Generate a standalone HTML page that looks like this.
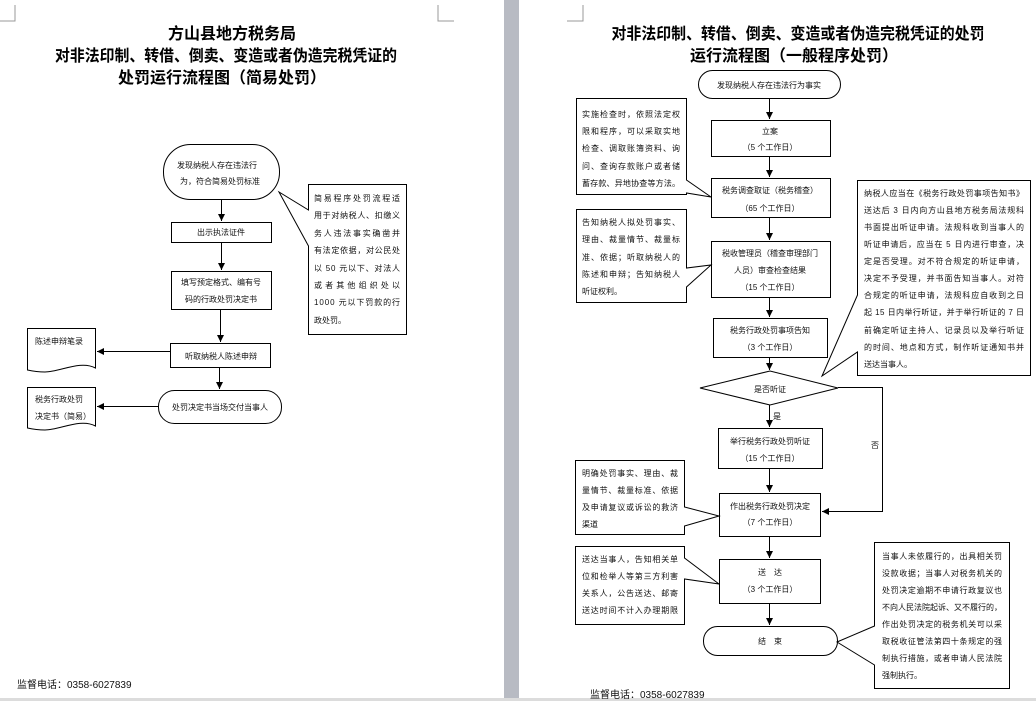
<!DOCTYPE html>
<html><head><meta charset="utf-8"><style>
html,body{margin:0;padding:0;width:1036px;height:701px;overflow:hidden;background:#fff}
svg{display:block}
text{font-family:"Liberation Sans","Noto Sans CJK SC",sans-serif;fill:#111}
.t{font-weight:bold;font-size:16px;fill:#000}
.s{font-size:8px}
.f{font-size:10px}
</style></head><body>
<svg width="1036" height="701" viewBox="0 0 1036 701" xmlns="http://www.w3.org/2000/svg">
<defs><marker id="a" markerWidth="8" markerHeight="8" refX="7" refY="4" orient="auto" markerUnits="userSpaceOnUse"><path d="M0,0.5 L7,4 L0,7.5z" fill="#000"/></marker></defs>
<rect x="504" y="0" width="15" height="701" fill="#b8bbc3"/>
<rect x="0" y="698" width="1036" height="3" fill="#dcdcdc"/>
<g stroke="#999" fill="none" stroke-width="1"><path d="M15,5 V21 H0"/><path d="M438,5 V21 H454"/><path d="M583,5 V21 H567"/></g>

<!-- LEFT PAGE -->
<text class="t" x="232" y="39" text-anchor="middle">方山县地方税务局</text>
<text class="t" x="226" y="61" text-anchor="middle" textLength="342" lengthAdjust="spacingAndGlyphs">对非法印制、转借、倒卖、变造或者伪造完税凭证的</text>
<text class="t" x="222" y="83" text-anchor="middle">处罚运行流程图（简易处罚）</text>

<g stroke="#000" stroke-width="1" fill="#fff">
<rect x="163.5" y="144.5" width="116" height="55" rx="27"/>
<rect x="171.5" y="222.5" width="100" height="20"/>
<rect x="171.5" y="271.5" width="100" height="38"/>
<rect x="170.5" y="343.5" width="100" height="24"/>
<rect x="158.5" y="390.5" width="123" height="33" rx="16"/>
<path d="M308.5,184.5 H406.5 V334.5 H308.5 V246 L279,192 L308.5,210 Z"/>
<path d="M27.5,328.5 H95.5 V368 C80,360 60,372 45,372 C38,372 32,371 27.5,370 Z"/>
<path d="M27.5,387.5 H95.5 V426 C80,418 60,430 45,430 C38,430 32,429 27.5,428 Z"/>
</g>
<g stroke="#000" fill="none" marker-end="url(#a)">
<line x1="221.5" y1="200" x2="221.5" y2="221"/>
<line x1="221.5" y1="243" x2="221.5" y2="270"/>
<line x1="220.5" y1="310" x2="220.5" y2="342"/>
<line x1="219.5" y1="368" x2="219.5" y2="389"/>
<line x1="170" y1="351.5" x2="97" y2="351.5"/>
<line x1="158" y1="406.5" x2="97" y2="406.5"/>
</g>
<text class="s" x="177" y="168">发现纳税人存在违法行</text>
<text class="s" x="180" y="184">为，符合简易处罚标准</text>
<text class="s" x="221" y="235" text-anchor="middle">出示执法证件</text>
<text class="s" x="221" y="285" text-anchor="middle">填写预定格式、编有号</text>
<text class="s" x="221" y="302" text-anchor="middle">码的行政处罚决定书</text>
<text class="s" x="221" y="359" text-anchor="middle">听取纳税人陈述申辩</text>
<text class="s" x="220" y="410" text-anchor="middle">处罚决定书当场交付当事人</text>
<text class="s" x="35" y="344">陈述申辩笔录</text>
<text class="s" x="35" y="402">税务行政处罚</text>
<text class="s" x="35" y="419">决定书（简易）</text>
<g class="s">
<text x="314" y="201" textLength="86">简易程序处罚流程适</text>
<text x="314" y="218" textLength="86">用于对纳税人、扣缴义</text>
<text x="314" y="236" textLength="86">务人违法事实确凿并</text>
<text x="314" y="253" textLength="86">有法定依据，对公民处</text>
<text x="314" y="271" textLength="86">以 50 元以下、对法人</text>
<text x="314" y="288" textLength="86">或者其他组织处以</text>
<text x="314" y="305" textLength="86">1000 元以下罚款的行</text>
<text x="314" y="323">政处罚。</text>
</g>
<text class="f" x="17" y="688">监督电话：0358-6027839</text>

<!-- RIGHT PAGE -->
<text class="t" x="798" y="39" text-anchor="middle" textLength="373" lengthAdjust="spacingAndGlyphs">对非法印制、转借、倒卖、变造或者伪造完税凭证的处罚</text>
<text class="t" x="794" y="61" text-anchor="middle">运行流程图（一般程序处罚）</text>

<g stroke="#000" stroke-width="1" fill="#fff">
<rect x="698.5" y="70.5" width="142" height="28" rx="14"/>
<rect x="711.5" y="120.5" width="119" height="36"/>
<rect x="711.5" y="178.5" width="119" height="39"/>
<rect x="711.5" y="241.5" width="119" height="56"/>
<rect x="713.5" y="318.5" width="114" height="39"/>
<path d="M700,388 L770,371 L838,388 L770,405 Z"/>
<rect x="718.5" y="428.5" width="104" height="40"/>
<rect x="719.5" y="493.5" width="101" height="43"/>
<rect x="719.5" y="559.5" width="101" height="44"/>
<rect x="703.5" y="626.5" width="134" height="29" rx="14"/>
<path d="M576.5,98.5 H686.5 V180 L711,197 L686.5,193 V194.5 H576.5 Z"/>
<path d="M576.5,209.5 H686.5 V268 L711,265 L686.5,287 V302.5 H576.5 Z"/>
<path d="M857.5,180.5 H1030.5 V375.5 H857.5 V352 L822,376 L857.5,295 Z"/>
<path d="M575.5,460.5 H684.5 V507 L719,516 L684.5,526 V534.5 H575.5 Z"/>
<path d="M575.5,546.5 H684.5 V558 L719,584 L684.5,579 V624.5 H575.5 Z"/>
<path d="M874.5,542.5 H1009.5 V688.5 H874.5 V665 L837,642 L874.5,626 Z"/>
</g>
<g stroke="#000" fill="none" marker-end="url(#a)">
<line x1="769.5" y1="99" x2="769.5" y2="119"/>
<line x1="769.5" y1="157" x2="769.5" y2="177"/>
<line x1="769.5" y1="218" x2="769.5" y2="240"/>
<line x1="769.5" y1="298" x2="769.5" y2="317"/>
<line x1="769.5" y1="358" x2="769.5" y2="370"/>
<line x1="769.5" y1="405" x2="769.5" y2="427"/>
<line x1="769.5" y1="469" x2="769.5" y2="492"/>
<line x1="769.5" y1="537" x2="769.5" y2="558"/>
<line x1="769.5" y1="604" x2="769.5" y2="625"/>
<polyline points="838,387.5 882.5,387.5 882.5,511.5 822,511.5"/>
</g>
<text class="s" x="769" y="88" text-anchor="middle">发现纳税人存在违法行为事实</text>
<text class="s" x="770" y="134" text-anchor="middle">立案</text>
<text class="s" x="770" y="150" text-anchor="middle">（5 个工作日）</text>
<text class="s" x="770" y="193" text-anchor="middle">税务调查取证（税务稽查）</text>
<text class="s" x="770" y="211" text-anchor="middle">（65 个工作日）</text>
<text class="s" x="770" y="256" text-anchor="middle">税收管理员（稽查审理部门</text>
<text class="s" x="770" y="273" text-anchor="middle">人员）审查检查结果</text>
<text class="s" x="770" y="290" text-anchor="middle">（15 个工作日）</text>
<text class="s" x="770" y="333" text-anchor="middle">税务行政处罚事项告知</text>
<text class="s" x="770" y="350" text-anchor="middle">（3 个工作日）</text>
<text class="s" x="770" y="392" text-anchor="middle">是否听证</text>
<text class="s" x="773" y="419">是</text>
<text class="s" x="871" y="448">否</text>
<text class="s" x="770" y="444" text-anchor="middle">举行税务行政处罚听证</text>
<text class="s" x="770" y="461" text-anchor="middle">（15 个工作日）</text>
<text class="s" x="770" y="509" text-anchor="middle">作出税务行政处罚决定</text>
<text class="s" x="770" y="525" text-anchor="middle">（7 个工作日）</text>
<text class="s" x="770" y="575" text-anchor="middle">送　达</text>
<text class="s" x="770" y="592" text-anchor="middle">（3 个工作日）</text>
<text class="s" x="770" y="644" text-anchor="middle">结　束</text>
<g class="s">
<text x="582" y="117" textLength="98">实施检查时，依照法定权</text>
<text x="582" y="134" textLength="98">限和程序，可以采取实地</text>
<text x="582" y="151" textLength="98">检查、调取账簿资料、询</text>
<text x="582" y="169" textLength="98">问、查询存款账户或者储</text>
<text x="582" y="186" textLength="98">蓄存款、异地协查等方法。</text>
<text x="582" y="225" textLength="98">告知纳税人拟处罚事实、</text>
<text x="582" y="242" textLength="98">理由、裁量情节、裁量标</text>
<text x="582" y="260" textLength="98">准、依据；听取纳税人的</text>
<text x="582" y="277" textLength="98">陈述和申辩；告知纳税人</text>
<text x="582" y="294">听证权利。</text>
<text x="864" y="196" textLength="160">纳税人应当在《税务行政处罚事项告知书》</text>
<text x="864" y="213" textLength="160">送达后 3 日内向方山县地方税务局法规科</text>
<text x="864" y="230" textLength="160">书面提出听证申请。法规科收到当事人的</text>
<text x="864" y="247" textLength="160">听证申请后，应当在 5 日内进行审查，决</text>
<text x="864" y="264" textLength="160">定是否受理。对不符合规定的听证申请，</text>
<text x="864" y="281" textLength="160">决定不予受理，并书面告知当事人。对符</text>
<text x="864" y="298" textLength="160">合规定的听证申请，法规科应自收到之日</text>
<text x="864" y="315" textLength="160">起 15 日内举行听证，并于举行听证的 7 日</text>
<text x="864" y="333" textLength="160">前确定听证主持人、记录员以及举行听证</text>
<text x="864" y="350" textLength="160">的时间、地点和方式，制作听证通知书并</text>
<text x="864" y="367">送达当事人。</text>
<text x="582" y="476" textLength="96">明确处罚事实、理由、裁</text>
<text x="582" y="493" textLength="96">量情节、裁量标准、依据</text>
<text x="582" y="510" textLength="96">及申请复议或诉讼的救济</text>
<text x="582" y="527">渠道</text>
<text x="582" y="562" textLength="96">送达当事人，告知相关单</text>
<text x="582" y="579" textLength="96">位和检举人等第三方利害</text>
<text x="582" y="596" textLength="96">关系人，公告送达、邮寄</text>
<text x="582" y="613" textLength="96">送达时间不计入办理期限</text>
<text x="882" y="559" textLength="120">当事人未依履行的，出具相关罚</text>
<text x="882" y="576" textLength="120">没款收据；当事人对税务机关的</text>
<text x="882" y="593" textLength="120">处罚决定逾期不申请行政复议也</text>
<text x="882" y="610" textLength="120">不向人民法院起诉、又不履行的，</text>
<text x="882" y="627" textLength="120">作出处罚决定的税务机关可以采</text>
<text x="882" y="644" textLength="120">取税收征管法第四十条规定的强</text>
<text x="882" y="661" textLength="120">制执行措施，或者申请人民法院</text>
<text x="882" y="678">强制执行。</text>
</g>
<text class="f" x="590" y="698">监督电话：0358-6027839</text>
</svg>
</body></html>
